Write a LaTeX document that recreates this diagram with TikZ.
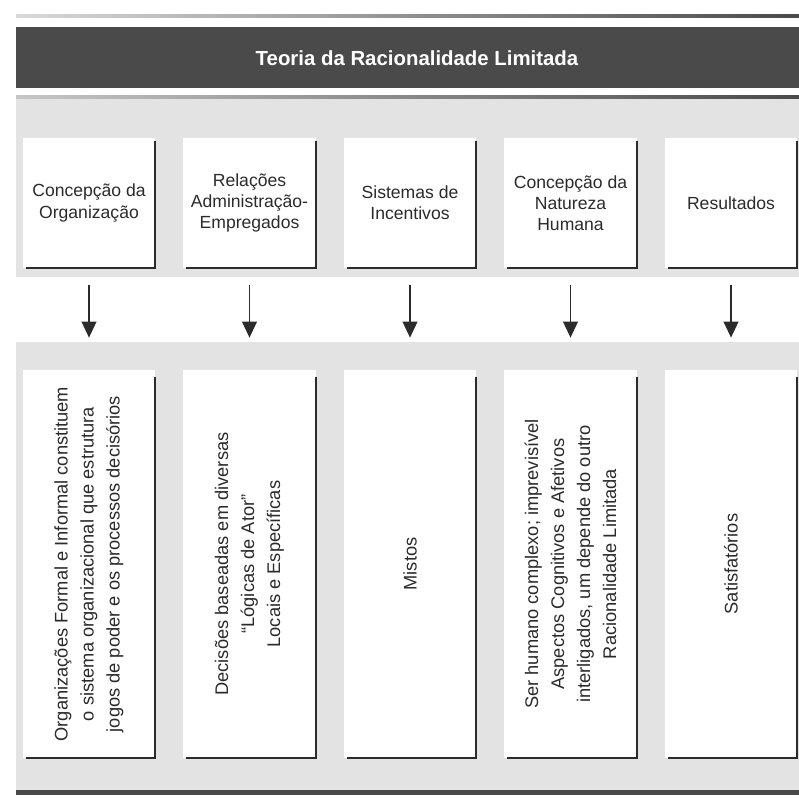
\documentclass[tikz,border=0pt]{standalone}
\usepackage{fontspec}
\setmainfont{Liberation Sans}
\usetikzlibrary{arrows.meta,backgrounds}
\definecolor{PanelGray}{HTML}{E3E3E3}
\definecolor{BarGray}{HTML}{4A4A4A}
\definecolor{RuleGray}{HTML}{4A4A4A}
\definecolor{InkGray}{HTML}{2B2B2B}
\tikzset{
  headbox/.style={
    fill=white,
    inner sep=0pt,
    minimum width=3.3cm,
    minimum height=3.25cm,
    align=center,
    text=InkGray,
    font=\fontsize{12.5}{15}\selectfont
  },
  bodybox/.style={
    fill=white,
    inner sep=0pt,
    minimum width=3.3cm,
    minimum height=9.7cm
  },
  bodytext/.style={
    rotate=90,
    align=center,
    text=InkGray,
    font=\fontsize{13}{18.5}\selectfont
  },
  boxshadow/.style={
    draw=InkGray,
    line width=1.6pt
  },
  downarrow/.style={
    -{Triangle[length=11.5pt,width=10.5pt]},
    line width=1.4pt,
    draw=InkGray,
    shorten <=0.425cm,
    shorten >=0.8cm
  }
}
\newcommand{\criterionbox}[3]{%
  \node[headbox] (#1) at (#2,203) {#3};
  \draw[boxshadow] ([yshift=-2pt]#1.north east) -- (#1.south east)
    -- ([xshift=2pt]#1.south west);
}
\newcommand{\answerbox}[3]{%
  \node[bodybox] (#1) at (#2,564) {};
  \node[bodytext] (#1text) at (#1.center) {#3};
  \draw[boxshadow] ([yshift=-5pt]#1.north east) -- (#1.south east)
    -- ([xshift=2pt]#1.south west);
}
\begin{document}
\begin{tikzpicture}[x=0.025cm,y=-0.025cm]
\useasboundingbox (0,0) rectangle (799,798);

% Page background and title band.
\begin{scope}[on background layer]
  \fill[white] (0,0) rectangle (799,798);
  \shade[left color=gray!30, right color=RuleGray] (16,14.5) rectangle (799,17);
  \fill[BarGray] (16,27) rectangle (799,88);
  \shade[left color=gray!45, right color=RuleGray] (16,95) rectangle (799,99);
  \fill[PanelGray] (16,99) rectangle (799,790);
  \fill[white] (16,277) rectangle (799,342);
  \fill[RuleGray] (16,790) rectangle (799,795);
\end{scope}

% Title.
\node[font=\bfseries\fontsize{14.5}{17}\selectfont, text=white] (title)
  at (417,58) {Teoria da Racionalidade Limitada};

% Row 1: criteria.
\criterionbox{c1}{89}{Concepção da\\Organização}
\criterionbox{c2}{249.5}{Relações\\Administração-\\Empregados}
\criterionbox{c3}{410}{Sistemas de\\Incentivos}
\criterionbox{c4}{570.5}{Concepção da\\Natureza\\Humana}
\criterionbox{c5}{731}{Resultados}

% Row 2: answers, set sideways.
\answerbox{a1}{89}{Organizações Formal e Informal constituem\\
  o sistema organizacional que estrutura\\
  jogos de poder e os processos decisórios}
\answerbox{a2}{249.5}{Decisões baseadas em diversas\\
  “Lógicas de Ator”\\
  Locais e Específicas}
\answerbox{a3}{410}{Mistos}
\answerbox{a4}{570.5}{Ser humano complexo; imprevisível\\
  Aspectos Cognitivos e Afetivos\\
  interligados, um depende do outro\\
  Racionalidade Limitada}
\answerbox{a5}{731}{Satisfatórios}

% Arrows between rows.
\foreach \i in {1,...,5}
  \draw[downarrow] (c\i.south) -- (a\i.north);

\end{tikzpicture}
\end{document}
